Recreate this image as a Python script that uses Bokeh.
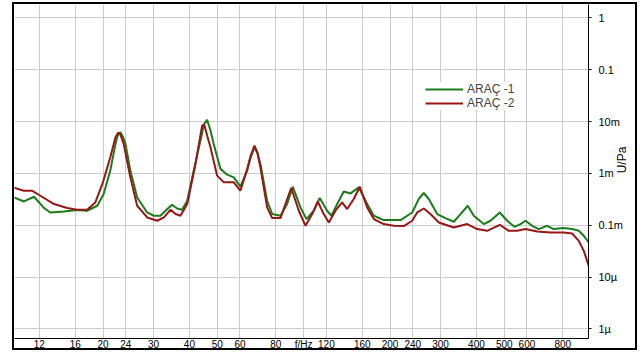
import math
from bokeh.plotting import figure
from bokeh.models import FixedTicker, Legend, LegendItem, LogAxis
from bokeh.embed import file_html
from bokeh.resources import INLINE

# ---- data ----
series_names = ["ARAÇ -1", "ARAÇ -2"]

freq_1 = [9.8, 10.6, 11.5, 12.4, 13.1, 14.6, 16.25, 17.6, 19.1, 20.1, 21.2, 22.1, 22.5, 23.0,
          23.5, 23.95, 24.9, 26.3, 28.5, 30.05, 31.7, 33.5, 34.8, 36.25, 37.7, 39.3, 41.4, 43.7,
          45.0, 46.1, 47.35, 48.6, 51.3, 54.15, 57.1, 60.2, 63.6, 65.4, 67.4, 69.0, 70.7, 74.6,
          77.7, 83.05, 87.6, 91.6, 97.5, 102.3, 108.5, 113.8, 120.8, 125.0, 130.9, 138.0, 145.6,
          155.6, 166.5, 175.6, 190.2, 217.5, 238.9, 251.9, 262.2, 272.9, 292.0, 312.0, 333.5,
          352.0, 373.2, 391.5, 424.2, 447.7, 482.5, 512.0, 542.8, 569.5, 592.8, 625.6, 659.5,
          705.4, 743.9, 806.1, 862.2, 909.2, 946.5, 985.0]
level_1_mV = [0.343, 0.287, 0.354, 0.220, 0.176, 0.184, 0.196, 0.190, 0.237, 0.399, 1.13, 3.70,
              5.35, 6.21, 4.97, 3.70, 1.13, 0.343, 0.176, 0.152, 0.152, 0.205, 0.248, 0.210,
              0.199, 0.296, 1.13, 4.29, 9.0, 10.79, 6.7, 3.70, 1.22, 0.944, 0.837, 0.553, 1.13,
              2.04, 3.18, 2.5, 1.52, 0.296, 0.164, 0.152, 0.256, 0.553, 0.220, 0.131, 0.190,
              0.334, 0.190, 0.152, 0.256, 0.448, 0.410, 0.536, 0.256, 0.152, 0.1255, 0.1255,
              0.176, 0.320, 0.418, 0.320, 0.164, 0.137, 0.1164, 0.164, 0.237, 0.152, 0.105,
              0.1217, 0.176, 0.1217, 0.0931, 0.105, 0.1217, 0.0974, 0.0841, 0.0974, 0.0841,
              0.0879, 0.0841, 0.0779, 0.0624, 0.0463]

freq_2 = [9.8, 10.6, 11.3, 12.1, 13.5, 15.0, 16.25, 17.6, 18.8, 19.9, 21.2, 22.1, 22.6, 23.0,
          23.6, 24.9, 26.3, 28.5, 30.9, 32.6, 34.4, 35.8, 37.2, 39.3, 42.0, 44.3, 45.1, 46.1,
          47.35, 49.95, 52.7, 57.1, 60.2, 63.6, 65.4, 67.4, 69.0, 70.7, 74.6, 77.7, 83.05, 86.4,
          90.5, 96.2, 101.5, 107.1, 112.0, 117.5, 122.4, 129.1, 136.2, 141.8, 149.5, 156.9,
          166.5, 175.6, 190.2, 206.1, 223.3, 238.9, 248.7, 262.2, 276.6, 295.8, 333.5, 371.4,
          402.3, 436.0, 482.5, 518.5, 554.6, 592.8, 651.2, 724.4, 806.1, 862.2, 909.2, 946.5,
          985.0]
level_2_mV = [0.53, 0.463, 0.463, 0.370, 0.256, 0.214, 0.199, 0.199, 0.275, 0.624, 2.04, 4.97,
              6.1, 5.6, 3.70, 0.837, 0.237, 0.141, 0.1217, 0.141, 0.199, 0.164, 0.152, 0.256,
              1.52, 8.37, 8.6, 5.35, 3.18, 0.903, 0.670, 0.670, 0.463, 1.22, 2.2, 3.43, 2.5, 1.31,
              0.220, 0.137, 0.137, 0.256, 0.522, 0.190, 0.0974, 0.164, 0.287, 0.164, 0.1128,
              0.190, 0.275, 0.205, 0.320, 0.553, 0.220, 0.131, 0.105, 0.0974, 0.0961, 0.1217,
              0.176, 0.210, 0.164, 0.1128, 0.0903, 0.105, 0.0841, 0.0779, 0.1018, 0.0779, 0.0779,
              0.0841, 0.0755, 0.0722, 0.0722, 0.0691, 0.0499, 0.0320, 0.0164]

x_tick_values = [12, 16, 20, 24, 30, 40, 50, 60, 80, 100, 120, 160, 200, 240, 300, 400, 500, 600, 800]
x_tick_labels = ["12", "16", "20", "24", "30", "40", "50", "60", "80", "f/Hz", "120", "160",
                 "200", "240", "300", "400", "500", "600", "800"]
y_tick_values = [1e-6, 1e-5, 1e-4, 1e-3, 1e-2, 1e-1, 1.0]
y_tick_labels = ["1µ", "10µ", "0.1m", "1m", "10m", "0.1", "1"]
y_axis_title = "U/Pa"

colors = ["#1a7d1a", "#991616"]

level_1 = [v * 1e-3 for v in level_1_mV]
level_2 = [v * 1e-3 for v in level_2_mV]

# ---- layout / style ----
title_anchor = 1e-3   # vertical position of the rotated axis title

p = figure(width=625, height=348, x_axis_type="log", y_axis_type="log",
           x_range=(9.83, 983), y_range=(6.52e-7, 1.808),
           y_axis_location="right", output_backend="svg", toolbar_location=None,
           min_border_left=0, min_border_top=0, min_border_right=51, min_border_bottom=13)
p.styles = {"border": "2px solid black", "margin-left": "12px", "margin-top": "2px"}
p.outline_line_color = None
p.background_fill_color = "white"
p.border_fill_color = "white"

r1 = p.line(freq_1, level_1, line_color=colors[0], line_width=2)
r2 = p.line(freq_2, level_2, line_color=colors[1], line_width=2)

grid_color = "#cccccc"
p.xgrid.grid_line_color = grid_color
p.ygrid.grid_line_color = grid_color
p.xgrid.minor_grid_line_color = None
p.ygrid.minor_grid_line_color = None

xa = p.xaxis[0]
xa.ticker = FixedTicker(ticks=x_tick_values)
xa.major_label_overrides = {v: t for v, t in zip(x_tick_values, x_tick_labels)}
xa.major_tick_out = 0
xa.major_tick_in = 0
xa.minor_tick_out = 0
xa.minor_tick_in = 0
xa.axis_line_color = "black"
xa.major_label_standoff = 0
xa.major_label_text_font = "Liberation Sans"
xa.major_label_text_font_size = "10px"
xa.major_label_text_color = "black"

ya = p.yaxis[0]
ya.ticker = FixedTicker(ticks=y_tick_values)
ya.major_label_overrides = {v: t for v, t in zip(y_tick_values, y_tick_labels)}
ya.major_tick_out = 3
ya.major_tick_in = 0
ya.minor_tick_out = 0
ya.minor_tick_in = 0
ya.axis_line_color = "black"
ya.major_tick_line_color = "black"
ya.major_label_standoff = 7
ya.major_label_text_font = "Liberation Sans"
ya.major_label_text_font_size = "11px"
ya.major_label_text_color = "black"

# rotated "U/Pa" title reading bottom-to-top, in its own right-hand panel
ta = LogAxis(ticker=FixedTicker(ticks=[title_anchor]),
             major_label_overrides={title_anchor: y_axis_title},
             major_label_orientation=math.pi / 2)
ta.axis_line_color = None
ta.major_tick_line_color = None
ta.minor_tick_line_color = None
ta.major_tick_out = 0
ta.major_tick_in = 0
ta.minor_tick_out = 0
ta.minor_tick_in = 0
ta.major_label_standoff = -3
ta.major_label_text_font = "Liberation Sans"
ta.major_label_text_font_size = "12px"
ta.major_label_text_color = "black"
p.add_layout(ta, "right")

legend = Legend(items=[LegendItem(label=series_names[0], renderers=[r1]),
                       LegendItem(label=series_names[1], renderers=[r2])],
                location=(411, 228))
legend.glyph_width = 38
legend.glyph_height = 14
legend.label_height = 14
legend.spacing = -2
legend.padding = 1
legend.margin = 0
legend.label_standoff = 4
legend.border_line_color = None
legend.background_fill_color = "white"
legend.background_fill_alpha = 1.0
legend.label_text_font = "Liberation Sans"
legend.label_text_font_size = "12px"
p.add_layout(legend)

open("out.html", "w").write(file_html(p, INLINE))
